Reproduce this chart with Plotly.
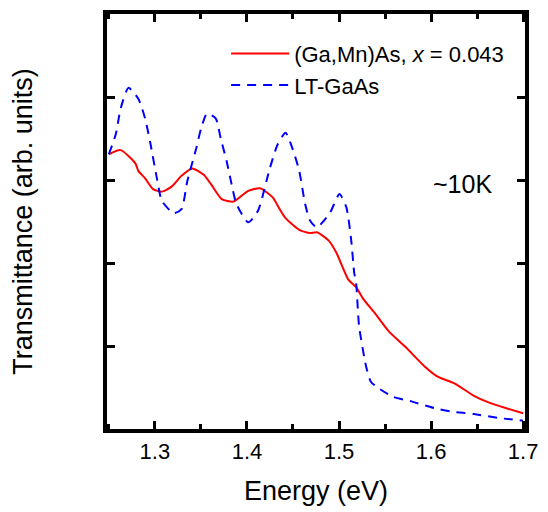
import plotly.graph_objects as go

# LT-GaAs (blue dashed)
blue_x = [1.2500, 1.2575, 1.2628, 1.2713, 1.2820, 1.2894, 1.2948, 1.3022, 1.3076, 1.3204,
          1.3289, 1.3353, 1.3449, 1.3502, 1.3566, 1.3662, 1.3715, 1.3779, 1.3833, 1.3886,
          1.4014, 1.4120, 1.4248, 1.4334, 1.4419, 1.4494, 1.4568, 1.4632, 1.4686, 1.4760,
          1.4899, 1.5005, 1.5080, 1.5133, 1.5165, 1.5186, 1.5218, 1.5293, 1.5346, 1.5432,
          1.5581, 1.5794, 1.6039, 1.6221, 1.6466, 1.6754, 1.6999]
blue_y = [3.31, 3.55, 3.86, 4.11, 3.98, 3.74, 3.46, 3.02, 2.75, 2.60,
          2.65, 2.99, 3.38, 3.62, 3.80, 3.74, 3.50, 3.23, 2.95, 2.71,
          2.49, 2.63, 3.14, 3.43, 3.57, 3.38, 3.11, 2.71, 2.51, 2.43,
          2.60, 2.83, 2.67, 2.27, 1.88, 1.76, 1.24, 0.76, 0.57, 0.49,
          0.39, 0.33, 0.25, 0.21, 0.18, 0.13, 0.10]

# (Ga,Mn)As x=0.043 (red solid)
red_x = [1.2500, 1.2628, 1.2788, 1.2820, 1.2894, 1.2980, 1.3076, 1.3182, 1.3289, 1.3406,
         1.3534, 1.3609, 1.3726, 1.3854, 1.4014, 1.4142, 1.4280, 1.4355, 1.4419, 1.4568,
         1.4686, 1.4760, 1.4888, 1.4973, 1.5101, 1.5186, 1.5261, 1.5400, 1.5538, 1.5720,
         1.5933, 1.6071, 1.6253, 1.6466, 1.6604, 1.6818, 1.6999]
red_y = [3.31, 3.36, 3.20, 3.11, 3.02, 2.89, 2.86, 2.92, 3.05, 3.14,
         3.06, 2.95, 2.77, 2.74, 2.87, 2.90, 2.79, 2.65, 2.54, 2.40,
         2.36, 2.37, 2.27, 2.12, 1.80, 1.71, 1.57, 1.38, 1.18, 0.99,
         0.75, 0.63, 0.55, 0.40, 0.33, 0.25, 0.19]

x_ticks = [1.3, 1.4, 1.5, 1.6, 1.7]
x_tick_labels = ["1.3", "1.4", "1.5", "1.6", "1.7"]
y_ticks = [0, 1, 2, 3, 4, 5]

FONT = "Liberation Sans, Arial, sans-serif"

fig = go.Figure()
fig.add_trace(go.Scatter(x=red_x, y=red_y, mode="lines",
                         line=dict(color="#ff0000", width=2, shape="spline", smoothing=0.6),
                         name="(Ga,Mn)As, <i>x</i> = 0.043"))
fig.add_trace(go.Scatter(x=blue_x, y=blue_y, mode="lines",
                         line=dict(color="#0000ff", width=2, dash="9px,7px", shape="spline", smoothing=0.6),
                         name="LT-GaAs"))

fig.add_annotation(x=1.634, y=2.95, xref="x", yref="y", text="~10K", showarrow=False,
                   font=dict(size=25, color="black", family=FONT))

fig.update_layout(
    width=548, height=512,
    margin=dict(l=107, r=16, t=10, b=80),
    plot_bgcolor="white", paper_bgcolor="white",
    font=dict(family=FONT, color="black", size=22),
    showlegend=True,
    legend=dict(x=0.285, y=0.955, xanchor="left", yanchor="top",
                bgcolor="rgba(0,0,0,0)", itemwidth=58,
                font=dict(size=22, family=FONT), tracegroupgap=0),
    xaxis=dict(range=[1.248, 1.702], tickvals=x_ticks, ticktext=x_tick_labels,
               ticks="inside", ticklen=8, tickwidth=3, tickcolor="black",
               minor=dict(ticks="inside", ticklen=5, tickwidth=3, dtick=0.05, tick0=1.25, tickcolor="black"),
               showline=True, linewidth=4, linecolor="black", mirror="allticks",
               showgrid=False, zeroline=False,
               tickfont=dict(size=22, family=FONT),
               title=dict(text="Energy (eV)", font=dict(size=27, family=FONT), standoff=19)),
    yaxis=dict(range=[0, 5], tickvals=y_ticks, showticklabels=False,
               ticks="inside", ticklen=8, tickwidth=3, tickcolor="black",
               showline=True, linewidth=4, linecolor="black", mirror="allticks",
               showgrid=False, zeroline=False,
               title=dict(text="Transmittance (arb. units)", font=dict(size=27, family=FONT), standoff=64)),
)

fig.write_html("out.html")
